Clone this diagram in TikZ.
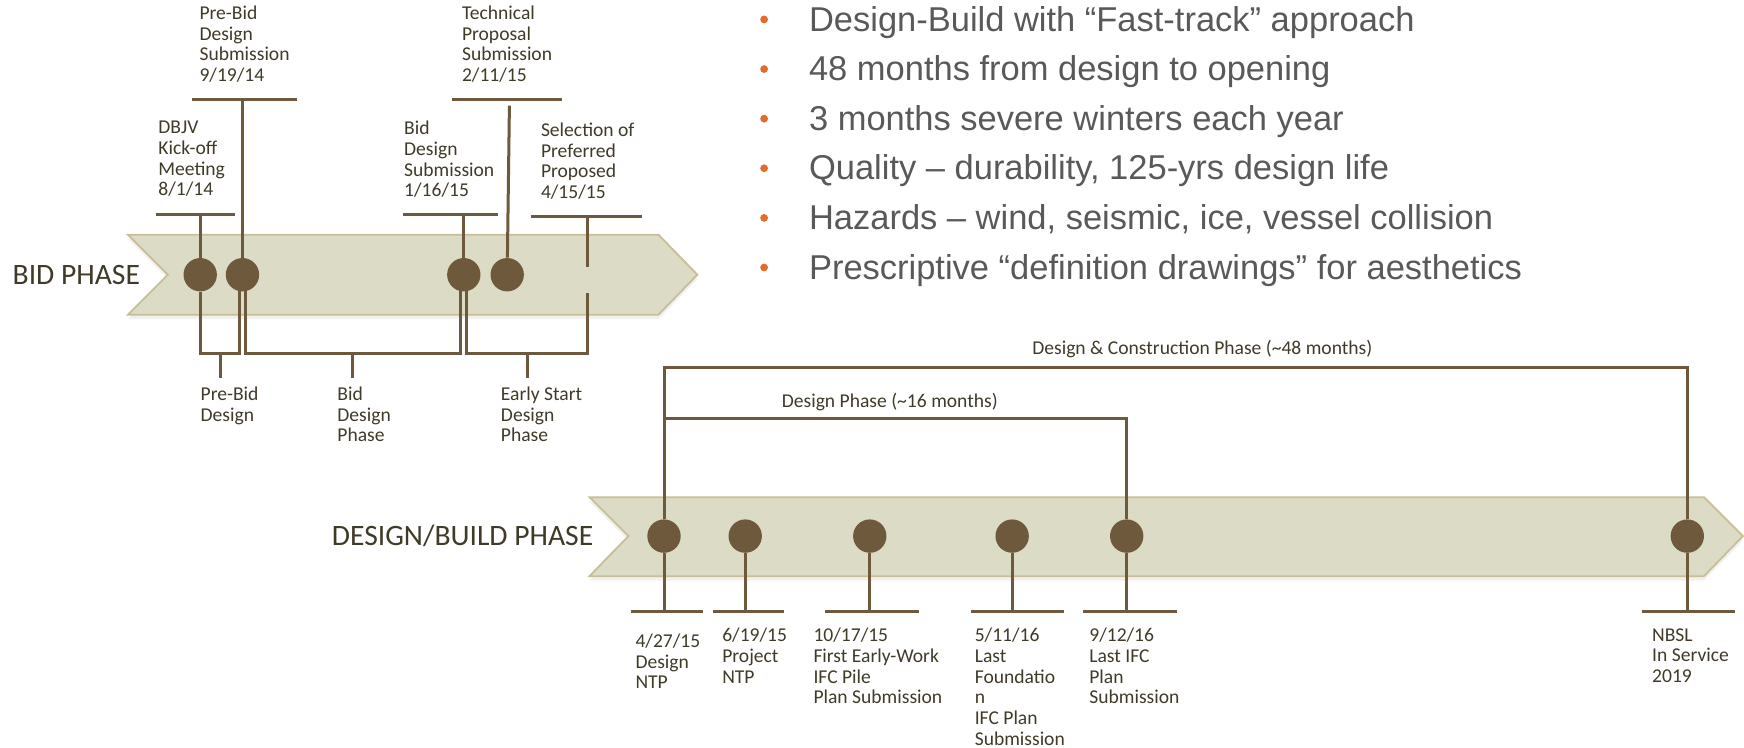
\documentclass[tikz,border=0pt]{standalone}
\usepackage{fontspec}
\setmainfont{Carlito}
\newfontfamily\pointfont{Liberation Sans}
\definecolor{bandfill}{RGB}{220,219,198}
\definecolor{bandedge}{RGB}{200,190,150}
\definecolor{mile}{RGB}{111,89,61}
\definecolor{labeltext}{RGB}{64,58,40}
\definecolor{pointtext}{RGB}{89,89,89}
\definecolor{pointdot}{RGB}{228,108,43}

\begin{document}
\begin{tikzpicture}[x=0.5pt, y=-0.5pt,
  link/.style={draw=mile, line width=1.35pt},
  dot/.style={circle, fill=mile, minimum size=15pt, inner sep=0pt},
  band/.style={fill=bandfill, draw=bandedge, line width=0.8pt},
  lbl/.style={anchor=north west, align=left, inner sep=0pt, text=labeltext, font=\fontsize{8.8}{9.3}\selectfont,
    execute at begin node=\strut},
  phase/.style={anchor=base west, inner sep=0pt, text=labeltext, font=\fontsize{13.3}{16}\selectfont},
  point/.style={anchor=base west, inner sep=0pt, text=pointtext, font=\pointfont\fontsize{15.5}{18}\selectfont}]
  \useasboundingbox (0,0) rectangle (1568,672);

  \foreach \t [count=\i from 0] in {{Design-Build with “Fast-track” approach}, {48 months from design to opening},
      {3 months severe winters each year}, {Quality – durability, 125-yrs design life},
      {Hazards – wind, seismic, ice, vessel collision}, {Prescriptive “definition drawings” for aesthetics}} {
    \fill[pointdot] (687,17.5+44.6*\i) circle (3.5);
    \node[point] (p\i) at (727,28+44.6*\i) {\t};
  }

  % bid phase
  \fill[black!6, shift={(0,4)}] (115,211) -- (592,211) -- (627,247) -- (592,283) -- (115,283) -- (151,247) -- cycle;
  \filldraw[band] (115,211) -- (592,211) -- (627,247) -- (592,283) -- (115,283) -- (151,247) -- cycle;
  \node[phase] (bid) at (11,255.5) {BID PHASE};
  \foreach \n/\x in {b1/180, b2/218, b3/417, b4/456}
    \node[dot] (\n) at (\x,247) {};

  \foreach \n/\l/\r/\y in {b1/140/211/193, b2/173/267/89.5, b3/362/448/193} {
    \draw[link] (\l,\y) -- (\r,\y);
    \draw[link] (\n |- 0,\y) -- (\n);
  }
  \draw[link] (406,89.5) -- (505,89.5);
  \draw[link] (458,95) -- (b4);
  \draw[link] (477,195) -- (577,195);
  \draw[link] (528,195) -- (528,240);

  \draw[link] (b1) -- (b1 |- 0,318) -| ([xshift=-1.4pt]b2.center);
  \draw[link] ([xshift=1.3pt]b2.center) -- ++(0,71) -| ([xshift=-1.4pt]b3.center);
  \draw[link] ([xshift=1.3pt]b3.center) -- ++(0,71) -| (528,263);
  \foreach \x in {198,317,474}
    \draw[link] (\x,318) -- (\x,340);

  \node[lbl] (kickoff) at (142,108.5) {DBJV\\Kick-off\\Meeting\\8/1/14};
  \node[lbl] (prebidsub) at (179,5) {Pre-Bid\\Design\\Submission\\9/19/14};
  \node[lbl] (bidsub) at (363,108.5) {Bid\\Design\\Submission\\1/16/15};
  \node[lbl] (techsub) at (415,5) {Technical\\Proposal\\Submission\\2/11/15};
  \node[lbl] (select) at (486,110) {Selection of\\Preferred\\Proposed\\4/15/15};
  \node[lbl] (prebid) at (180,347.5) {Pre-Bid\\Design};
  \node[lbl] (biddesign) at (303,347.5) {Bid\\Design\\Phase};
  \node[lbl] (early) at (450,347.5) {Early Start\\Design\\Phase};

  % design/build phase
  \fill[black!6, shift={(0,4)}] (530,447) -- (1532,447) -- (1567,482) -- (1532,518) -- (530,518) -- (565,482) -- cycle;
  \filldraw[band] (530,447) -- (1532,447) -- (1567,482) -- (1532,518) -- (530,518) -- (565,482) -- cycle;
  \node[phase] (db) at (298,490.5) {DESIGN/BUILD PHASE};
  \foreach \n/\x in {d1/597, d2/670, d3/782, d4/910, d5/1013, d6/1517}
    \node[dot] (\n) at (\x,482) {};

  \foreach \n/\l/\r in {d1/567/632, d2/641/705, d3/742/826, d4/873/957, d5/974/1058, d6/1476/1560} {
    \draw[link] (\n) -- (\n |- 0,550);
    \draw[link] (\l,550) -- (\r,550);
  }
  \draw[link] (d1) -- (d1 |- 0,330) -| (d6);
  \draw[link] (d1 |- 0,376) -| (d5);
  \node[lbl, anchor=base, execute at begin node={}] (dcphase) at (1081,318.5) {Design \& Construction Phase (\textasciitilde48 months)};
  \node[lbl, anchor=base, execute at begin node={}] (dphase) at (800,366) {Design Phase (\textasciitilde16 months)};

  \node[lbl] (dntp) at (571,569.5) {4/27/15\\Design\\NTP};
  \node[lbl] (pntp) at (649,564.5) {6/19/15\\Project\\NTP};
  \node[lbl] (pile) at (731,564.5) {10/17/15\\First Early-Work\\IFC Pile\\Plan Submission};
  \node[lbl] (found) at (876,564.5) {5/11/16\\Last\\Foundatio\\n\\IFC Plan\\Submission};
  \node[lbl] (lastifc) at (979,564.5) {9/12/16\\Last IFC\\Plan\\Submission};
  \node[lbl] (nbsl) at (1485,564.5) {NBSL\\In Service\\2019};
\end{tikzpicture}
\end{document}
